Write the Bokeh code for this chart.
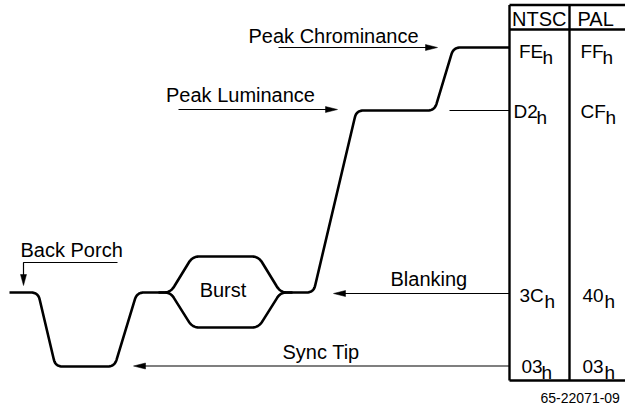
import numpy as np
from bokeh.plotting import figure
from bokeh.models import Range1d
from bokeh.core.properties import value
from bokeh.embed import file_html
from bokeh.resources import INLINE

# ---- diagram data (levels and timing breakpoints, in drawing units) ----
LEVEL_BLANK = 292
LEVEL_SYNC = 366
LEVEL_LUMA = 110
LEVEL_CHROMA = 47
BURST_TOP = 256
BURST_BOT = 327

wave_x = [9, 37.5, 55, 114, 136.5, 170, 192, 258, 280, 313, 356, 434, 453, 509]
wave_y = [LEVEL_BLANK, LEVEL_BLANK, LEVEL_SYNC, LEVEL_SYNC, LEVEL_BLANK, LEVEL_BLANK,
          BURST_TOP, BURST_TOP, LEVEL_BLANK, LEVEL_BLANK, LEVEL_LUMA, LEVEL_LUMA,
          LEVEL_CHROMA, LEVEL_CHROMA]
burst_low_x = [158, 170, 192, 258, 280, 292]
burst_low_y = [LEVEL_BLANK, LEVEL_BLANK, BURST_BOT, BURST_BOT, LEVEL_BLANK, LEVEL_BLANK]

# arrows: tail -> tip
arrow_labels = ["Peak Chrominance", "Peak Luminance", "Blanking", "Sync Tip"]
arrow_x0 = [278, 178, 509, 509]
arrow_y0 = [47, 109, 293, 365.5]
arrow_x1 = [437, 337, 333, 133]
arrow_y1 = [47, 109, 293, 365.5]
label_x = [248, 165.5, 390, 282]
label_y = [42, 101.5, 285, 358]

# back porch pointer
porch_x = [117, 23, 23]
porch_y = [262, 262, 285]

# table
col_heads = ["NTSC", "PAL"]
head_x = [511.5, 577]
ntsc_vals = ["FE", "D2", "3C", "03"]
pal_vals = ["FF", "CF", "40", "03"]
val_y = [57, 117, 301, 372]
ntsc_x = [518.5, 513, 519, 521]
ntsc_h_x = [542, 536, 544, 541]
pal_x = [580, 580, 582, 582]
pal_h_x = [602, 605, 604, 604]

FONT = value("Liberation Sans")
BASE_SHIFT = 0.33  # compensation for baseline placement, fraction of font size

def ty(ys, size):
    return [y - BASE_SHIFT * size for y in ys]

def rounded(xs, ys, r=7, n=14):
    P = np.column_stack([xs, ys]).astype(float)
    out = [P[0]]
    for i in range(1, len(P) - 1):
        p0, p1, p2 = P[i - 1], P[i], P[i + 1]
        v1, v2 = p0 - p1, p2 - p1
        l1, l2 = np.hypot(*v1), np.hypot(*v2)
        rr = min(r, l1 / 2, l2 / 2)
        a = p1 + v1 / l1 * rr
        b = p1 + v2 / l2 * rr
        t = np.linspace(0, 1, n)[:, None]
        seg = (1 - t) ** 2 * a + 2 * (1 - t) * t * p1 + t ** 2 * b
        out.extend(seg)
    out.append(P[-1])
    out = np.array(out)
    return out[:, 0], out[:, 1]

W, H = 625, 410
p = figure(width=W, height=H, output_backend="svg", toolbar_location=None,
           x_range=Range1d(0, W), y_range=Range1d(H, 0),
           min_border=0, x_axis_location=None, y_axis_location=None)
p.grid.visible = False
p.outline_line_color = None
p.background_fill_color = "white"
p.border_fill_color = "white"

# waveform
wx, wy = rounded(wave_x, wave_y, r=7)
p.line(wx, wy, line_width=2.6, line_color="black", line_join="round", line_cap="butt")
bx, by = rounded(burst_low_x, burst_low_y, r=7)
p.line(bx, by, line_width=2.6, line_color="black", line_join="round")

# peak luminance reference line into table
p.line([449, 509], [LEVEL_LUMA, LEVEL_LUMA], line_width=1.2, line_color="black")

def head(xt, yt, xs, ys, L=12, hw=3):
    d = np.array([xt - xs, yt - ys], float)
    d /= np.hypot(*d)
    n = np.array([-d[1], d[0]])
    tip = np.array([xt, yt], float)
    base = tip - d * L
    pts = [tip, base + n * hw, base - n * hw]
    return [q[0] for q in pts], [q[1] for q in pts]

hx, hy = [], []
for x0, y0, x1, y1 in zip(arrow_x0, arrow_y0, arrow_x1, arrow_y1):
    d = np.sign(x1 - x0)
    p.line([x0, x1 - d * 8], [y0, y1], line_width=1.2, line_color="black")
    a, b = head(x1, y1, x0, y0)
    hx.append(a); hy.append(b)
p.line(porch_x, porch_y[:2] + [porch_y[2] - 8], line_width=1.2, line_color="black")
a, b = head(porch_x[2], porch_y[2], porch_x[1], porch_y[1], L=11)
hx.append(a); hy.append(b)
p.patches(hx, hy, fill_color="black", line_color="black", line_width=0.5)

p.text(label_x, ty(label_y, 20), text=arrow_labels, text_font=FONT, text_font_size="20px",
       text_baseline="alphabetic", text_align="left", text_color="black")
p.text([20], ty([256], 20), text=["Back Porch"], text_font=FONT, text_font_size="20px",
       text_baseline="alphabetic", text_color="black")
p.text([222.5], ty([296], 20), text=["Burst"], text_font=FONT, text_font_size="20px",
       text_baseline="alphabetic", text_align="center", text_color="black")

# table frame (right edge lies outside the picture)
TL, TS, TR, TT, TM, TB = 509, 569, 640, 4.5, 29, 380
p.line([TL, TR], [TT, TT], line_width=2.4, line_color="black")
p.line([TL, TR], [TM, TM], line_width=2.4, line_color="black")
p.line([TL, TR], [TB, TB], line_width=2.4, line_color="black")
p.line([TL, TL], [TT, TB], line_width=2.4, line_color="black")
p.line([TS, TS], [TT, TB], line_width=2.4, line_color="black")

p.text(head_x, ty([25.5, 25.5], 20), text=col_heads, text_font=FONT, text_font_size="20px",
       text_baseline="alphabetic", text_color="black")
p.text(ntsc_x, ty(val_y, 19), text=ntsc_vals, text_font=FONT, text_font_size="19px",
       text_baseline="alphabetic", text_color="black")
p.text(ntsc_h_x, ty([v + 6 for v in val_y], 19), text=["h"] * 4, text_font=FONT,
       text_font_size="19px", text_baseline="alphabetic", text_color="black")
p.text(pal_x, ty(val_y, 19), text=pal_vals, text_font=FONT, text_font_size="19px",
       text_baseline="alphabetic", text_color="black")
p.text(pal_h_x, ty([v + 6 for v in val_y], 19), text=["h"] * 4, text_font=FONT,
       text_font_size="19px", text_baseline="alphabetic", text_color="black")

p.text([540], ty([402], 14), text=["65-22071-09"], text_font=FONT, text_font_size="14px",
       text_baseline="alphabetic", text_color="black")

open("out.html", "w").write(file_html(p, INLINE))
